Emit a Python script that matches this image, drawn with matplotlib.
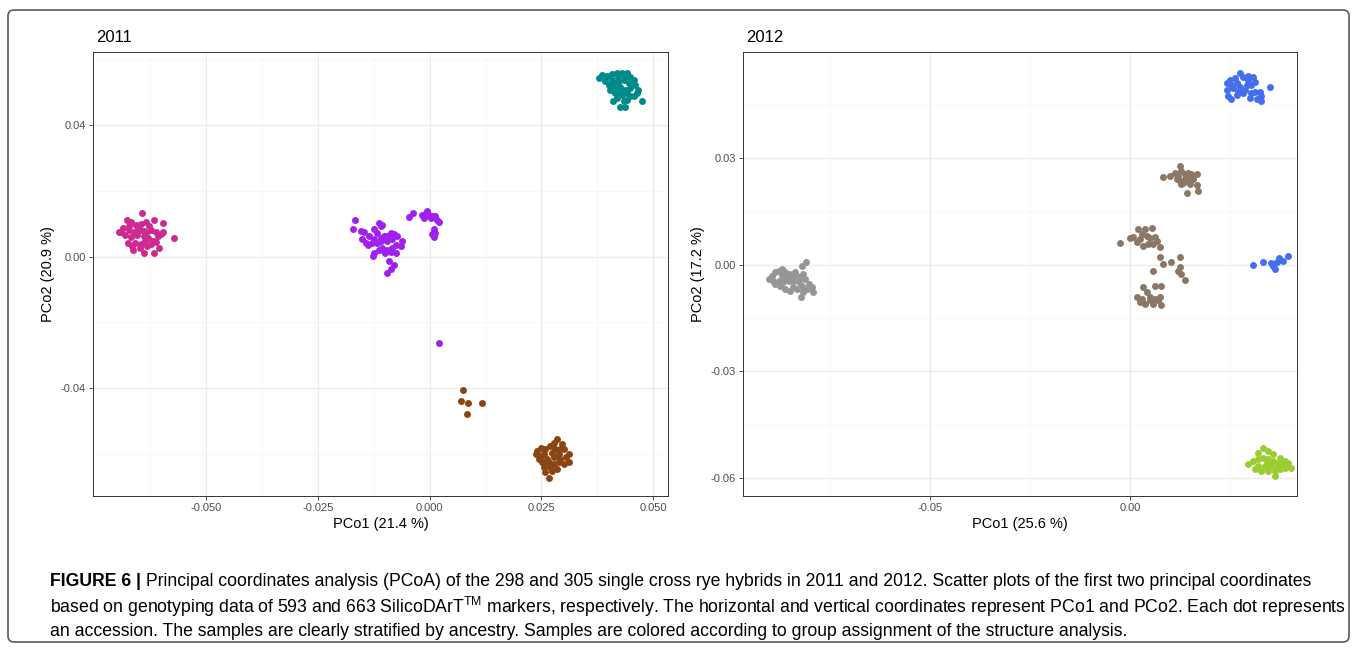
import matplotlib.pyplot as plt
from matplotlib.patches import FancyBboxPatch

plt.rcParams['font.family'] = ['Liberation Sans', 'DejaVu Sans']
plt.rcParams['mathtext.fontset'] = 'custom'
plt.rcParams['mathtext.rm'] = 'Liberation Sans'

# ---- 2011 groups (PCo1, PCo2) ----
magenta_2011 = [
    (-0.0643, 0.0133), (-0.0616, 0.0112), (-0.0596, 0.0103), (-0.0571, 0.0055), (-0.0678, 0.0112),
    (-0.0694, 0.0073), (-0.0674, 0.0042), (-0.0663, 0.0021), (-0.0640, 0.0012), (-0.0616, 0.0012),
    (-0.0605, 0.0027), (-0.0607, 0.0061), (-0.0667, 0.0106), (-0.0656, 0.0097), (-0.0645, 0.0100),
    (-0.0634, 0.0106), (-0.0627, 0.0094), (-0.0685, 0.0088), (-0.0672, 0.0082), (-0.0661, 0.0076),
    (-0.0649, 0.0082), (-0.0638, 0.0079), (-0.0623, 0.0082), (-0.0612, 0.0076), (-0.0600, 0.0067),
    (-0.0681, 0.0064), (-0.0667, 0.0058), (-0.0654, 0.0064), (-0.0640, 0.0061), (-0.0629, 0.0055),
    (-0.0618, 0.0048), (-0.0658, 0.0042), (-0.0645, 0.0039), (-0.0632, 0.0033), (-0.0623, 0.0039),
    (-0.0672, 0.0094), (-0.0652, 0.0088), (-0.0634, 0.0070), (-0.0690, 0.0076), (-0.0596, 0.0076),
    (-0.0649, 0.0027), (-0.0636, 0.0048), (-0.0612, 0.0045), (-0.0665, 0.0033),
]
purple_2011 = [
    (-0.0168, 0.0112), (-0.0171, 0.0084), (-0.0154, 0.0077), (-0.0148, 0.0074), (-0.0151, 0.0054),
    (-0.0143, 0.0042), (-0.0139, 0.0036), (-0.0125, 0.0084), (-0.0114, 0.0102), (-0.0106, 0.0097),
    (-0.0110, 0.0092), (-0.0117, 0.0072), (-0.0125, 0.0052), (-0.0128, 0.0042), (-0.0117, 0.0042),
    (-0.0110, 0.0057), (-0.0102, 0.0062), (-0.0095, 0.0062), (-0.0087, 0.0072), (-0.0080, 0.0067),
    (-0.0072, 0.0062), (-0.0061, 0.0046), (-0.0065, 0.0031), (-0.0076, 0.0036), (-0.0084, 0.0026),
    (-0.0095, 0.0021), (-0.0102, 0.0016), (-0.0106, 0.0026), (-0.0114, 0.0021), (-0.0125, 0.0011),
    (-0.0126, 0.0003), (-0.0099, 0.0011), (-0.0087, 0.0013), (-0.0076, 0.0011), (-0.0091, -0.0014),
    (-0.0080, -0.0027), (-0.0087, -0.0039), (-0.0096, -0.0049), (-0.0110, 0.0046), (-0.0095, 0.0046),
    (-0.0084, 0.0052), (-0.0136, 0.0062),
    (-0.0047, 0.0120), (-0.0037, 0.0132), (-0.0017, 0.0127), (-0.0013, 0.0117), (-0.0007, 0.0137),
    (-0.0002, 0.0127), (0.0005, 0.0122), (0.0013, 0.0124), (0.0017, 0.0112), (0.0020, 0.0104),
    (0.0009, 0.0084), (0.0011, 0.0072), (0.0009, 0.0060), (0.0006, 0.0067), (-0.0009, 0.0132),
    (0.0002, 0.0117),
    (0.0020, -0.0264),
]
teal_2011 = [
    (0.0378, 0.0541), (0.0385, 0.0551), (0.0397, 0.0548), (0.0408, 0.0554), (0.0419, 0.0557),
    (0.0430, 0.0558), (0.0441, 0.0557), (0.0448, 0.0546), (0.0456, 0.0536), (0.0460, 0.0521),
    (0.0467, 0.0506), (0.0475, 0.0471), (0.0463, 0.0496), (0.0448, 0.0486), (0.0441, 0.0476),
    (0.0434, 0.0471), (0.0426, 0.0455), (0.0437, 0.0455), (0.0411, 0.0471), (0.0404, 0.0506),
    (0.0400, 0.0521), (0.0411, 0.0526), (0.0422, 0.0531), (0.0434, 0.0536), (0.0445, 0.0526),
    (0.0448, 0.0511), (0.0437, 0.0506), (0.0426, 0.0501), (0.0415, 0.0496), (0.0430, 0.0491),
    (0.0441, 0.0496), (0.0419, 0.0481), (0.0408, 0.0536), (0.0393, 0.0534), (0.0422, 0.0546),
    (0.0437, 0.0544), (0.0456, 0.0486), (0.0426, 0.0516), (0.0415, 0.0511),
]
brown_2011 = [
    (0.0075, -0.0406), (0.0071, -0.0438), (0.0086, -0.0444), (0.0118, -0.0445), (0.0084, -0.0477),
    (0.0237, -0.0600), (0.0240, -0.0590), (0.0248, -0.0580), (0.0259, -0.0585), (0.0270, -0.0575),
    (0.0277, -0.0565), (0.0285, -0.0554), (0.0296, -0.0570), (0.0300, -0.0585), (0.0311, -0.0600),
    (0.0304, -0.0610), (0.0311, -0.0625), (0.0300, -0.0630), (0.0289, -0.0625), (0.0285, -0.0645),
    (0.0274, -0.0651), (0.0270, -0.0640), (0.0255, -0.0640), (0.0252, -0.0625), (0.0244, -0.0615),
    (0.0263, -0.0615), (0.0277, -0.0610), (0.0274, -0.0595), (0.0289, -0.0600), (0.0255, -0.0600),
    (0.0266, -0.0625), (0.0266, -0.0671), (0.0259, -0.0655), (0.0292, -0.0585), (0.0281, -0.0585),
    (0.0248, -0.0605), (0.0292, -0.0615), (0.0277, -0.0630), (0.0259, -0.0630),
]

# ---- 2012 groups ----
gray_2012 = [
    (-0.0904, -0.0039), (-0.0896, -0.0030), (-0.0888, -0.0020), (-0.0879, -0.0016), (-0.0871, -0.0011),
    (-0.0863, -0.0019), (-0.0850, -0.0025), (-0.0838, -0.0019), (-0.0821, -0.0004), (-0.0810, 0.0008),
    (-0.0817, -0.0025), (-0.0813, -0.0039), (-0.0804, -0.0053), (-0.0796, -0.0062), (-0.0792, -0.0075),
    (-0.0817, -0.0076), (-0.0823, -0.0090), (-0.0833, -0.0067), (-0.0842, -0.0062), (-0.0850, -0.0072),
    (-0.0863, -0.0067), (-0.0875, -0.0058), (-0.0888, -0.0053), (-0.0879, -0.0044), (-0.0867, -0.0039),
    (-0.0854, -0.0044), (-0.0842, -0.0044), (-0.0829, -0.0048), (-0.0825, -0.0034), (-0.0833, -0.0030),
    (-0.0846, -0.0034), (-0.0858, -0.0030), (-0.0871, -0.0028), (-0.0892, -0.0044), (-0.0867, -0.0048),
    (-0.0821, -0.0058), (-0.0808, -0.0067),
]
brown_2012 = [
    (0.0083, 0.0248), (0.0100, 0.0252), (0.0113, 0.0260), (0.0125, 0.0278), (0.0129, 0.0264),
    (0.0138, 0.0255), (0.0146, 0.0260), (0.0154, 0.0255), (0.0167, 0.0255), (0.0158, 0.0241),
    (0.0167, 0.0224), (0.0171, 0.0208), (0.0142, 0.0202), (0.0133, 0.0232), (0.0125, 0.0236),
    (0.0117, 0.0243), (0.0138, 0.0241), (0.0146, 0.0236), (0.0150, 0.0227), (0.0129, 0.0227),
    (0.0121, 0.0250), (0.0142, 0.0246),
    (-0.0025, 0.0061), (0.0000, 0.0075), (0.0008, 0.0080), (0.0021, 0.0101), (0.0038, 0.0101),
    (0.0054, 0.0104), (0.0029, 0.0087), (0.0042, 0.0082), (0.0050, 0.0075), (0.0063, 0.0080),
    (0.0067, 0.0068), (0.0075, 0.0051), (0.0033, 0.0054), (0.0046, 0.0059), (0.0025, 0.0073),
    (0.0017, 0.0064), (0.0058, 0.0059),
    (0.0075, 0.0022), (0.0083, 0.0003), (0.0104, 0.0009), (0.0125, 0.0023), (0.0057, -0.0016),
    (0.0125, -0.0006), (0.0129, -0.0025), (0.0138, -0.0041), (0.0121, -0.0016),
    (0.0032, -0.0062), (0.0063, -0.0058), (0.0079, -0.0058), (0.0017, -0.0090), (0.0025, -0.0103),
    (0.0042, -0.0076), (0.0050, -0.0090), (0.0038, -0.0109), (0.0058, -0.0109), (0.0071, -0.0100),
    (0.0079, -0.0114), (0.0050, -0.0100), (0.0063, -0.0095), (0.0029, -0.0095), (0.0075, -0.0090),
]
blue_2012 = [
    (0.0242, 0.0512), (0.0250, 0.0521), (0.0263, 0.0526), (0.0275, 0.0540), (0.0283, 0.0530),
    (0.0296, 0.0532), (0.0308, 0.0530), (0.0313, 0.0516), (0.0304, 0.0507), (0.0313, 0.0488),
    (0.0325, 0.0488), (0.0329, 0.0476), (0.0329, 0.0463), (0.0317, 0.0467), (0.0300, 0.0470),
    (0.0283, 0.0484), (0.0267, 0.0479), (0.0254, 0.0467), (0.0246, 0.0476), (0.0242, 0.0493),
    (0.0258, 0.0498), (0.0275, 0.0502), (0.0292, 0.0507), (0.0288, 0.0493), (0.0271, 0.0488),
    (0.0350, 0.0500), (0.0296, 0.0521), (0.0267, 0.0512), (0.0254, 0.0507), (0.0304, 0.0484),
    (0.0308, 0.0001), (0.0333, 0.0009), (0.0354, 0.0006), (0.0358, -0.0002), (0.0363, -0.0011),
    (0.0367, 0.0008), (0.0373, 0.0020), (0.0383, 0.0012), (0.0396, 0.0024), (0.0361, 0.0003),
]
green_2012 = [
    (0.0321, -0.0529), (0.0333, -0.0515), (0.0346, -0.0524), (0.0358, -0.0534), (0.0375, -0.0543),
    (0.0388, -0.0551), (0.0396, -0.0557), (0.0404, -0.0571), (0.0388, -0.0571), (0.0375, -0.0576),
    (0.0363, -0.0580), (0.0363, -0.0594), (0.0346, -0.0580), (0.0329, -0.0580), (0.0313, -0.0576),
    (0.0296, -0.0562), (0.0308, -0.0552), (0.0321, -0.0548), (0.0333, -0.0543), (0.0346, -0.0548),
    (0.0358, -0.0552), (0.0371, -0.0557), (0.0354, -0.0566), (0.0338, -0.0566), (0.0321, -0.0566),
    (0.0383, -0.0562), (0.0342, -0.0557), (0.0367, -0.0569),
]

groups_2011 = [(magenta_2011, '#CD2990'), (purple_2011, '#A020F0'),
               (teal_2011, '#008B8B'), (brown_2011, '#8B4513')]
groups_2012 = [(gray_2012, '#969696'), (brown_2012, '#8B7765'),
               (blue_2012, '#436EEE'), (green_2012, '#9ACD32')]

W, H = 1357, 652
fig = plt.figure(figsize=(W / 100, H / 100), dpi=100)

ax1 = fig.add_axes([93 / W, 1 - 496 / H, 575 / W, 444 / H])
ax2 = fig.add_axes([743 / W, 1 - 496 / H, 554 / W, 444 / H])


def style_panel(ax, title, xlab, ylab):
    ax.set_axisbelow(True)
    ax.grid(True, which='major', color='#EBEBEB', lw=0.9)
    ax.grid(True, which='minor', color='#F4F4F4', lw=0.5)
    ax.tick_params(which='major', length=3, width=0.6, color='#333333',
                   labelsize=8, labelcolor='#4D4D4D', pad=2)
    ax.tick_params(which='minor', length=0)
    for s in ax.spines.values():
        s.set_color('#333333')
        s.set_linewidth(0.7)
    ax.set_title(title, loc='left', fontsize=12, pad=7, x=0.006)
    ax.set_xlabel(xlab, fontsize=10.5, labelpad=3)
    ax.set_ylabel(ylab, fontsize=10.5, labelpad=4)


for pts, col in groups_2011:
    xs, ys = zip(*pts)
    ax1.scatter(xs, ys, s=25, color=col, linewidths=0)
ax1.set_xlim(-0.0753, 0.0533)
ax1.set_ylim(-0.0727, 0.0621)
ax1.set_xticks([-0.05, -0.025, 0, 0.025, 0.05])
ax1.set_xticklabels(['-0.050', '-0.025', '0.000', '0.025', '0.050'])
ax1.set_xticks([-0.0625, -0.0375, -0.0125, 0.0125, 0.0375], minor=True)
ax1.set_yticks([-0.04, 0, 0.04])
ax1.set_yticklabels(['-0.04', '0.00', '0.04'])
ax1.set_yticks([-0.06, -0.02, 0.02, 0.06], minor=True)
style_panel(ax1, '2011', 'PCo1 (21.4 %)', 'PCo2 (20.9 %)')

for pts, col in groups_2012:
    xs, ys = zip(*pts)
    ax2.scatter(xs, ys, s=25, color=col, linewidths=0)
ax2.set_xlim(-0.0968, 0.0418)
ax2.set_ylim(-0.0651, 0.0600)
ax2.set_xticks([-0.05, 0])
ax2.set_xticklabels(['-0.05', '0.00'])
ax2.set_xticks([-0.075, -0.025, 0.025], minor=True)
ax2.set_yticks([-0.06, -0.03, 0, 0.03])
ax2.set_yticklabels(['-0.06', '-0.03', '0.00', '0.03'])
ax2.set_yticks([-0.045, -0.015, 0.015, 0.045], minor=True)
style_panel(ax2, '2012', 'PCo1 (25.6 %)', 'PCo2 (17.2 %)')

# outer frame
frame = FancyBboxPatch((0.08, 0.10), 13.41, 6.32,
                       boxstyle='round,pad=0,rounding_size=0.06',
                       transform=fig.dpi_scale_trans, fill=False,
                       ec='#5A5A5A', lw=1.2)
fig.patches.append(frame)

# caption
cap_fs = 12.7
x0 = 50 / W
head = fig.text(x0, 1 - 582 / H, 'FIGURE 6 |', fontsize=cap_fs,
                fontweight='bold', va='center')
plt.annotate(' Principal coordinates analysis (PCoA) of the 298 and 305 single cross rye '
             'hybrids in 2011 and 2012. Scatter plots of the first two principal coordinates',
             xy=(1, 0.5), xycoords=head, va='center', ha='left', fontsize=cap_fs)
fig.text(x0, 1 - 607 / H,
         r'based on genotyping data of 593 and 663 SilicoDArT$^{\mathrm{TM}}$ markers, '
         'respectively. The horizontal and vertical coordinates represent PCo1 and PCo2. '
         'Each dot represents', fontsize=cap_fs, va='center')
fig.text(x0, 1 - 631 / H,
         'an accession. The samples are clearly stratified by ancestry. Samples are colored '
         'according to group assignment of the structure analysis.',
         fontsize=cap_fs, va='center')

fig.savefig('out.png', dpi=100)
